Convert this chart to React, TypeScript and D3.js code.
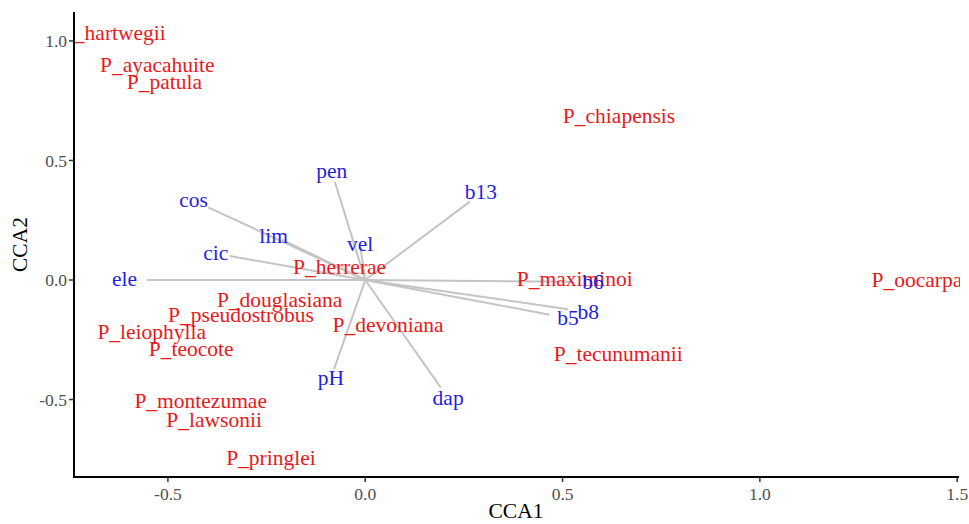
import React from "react";
import * as d3 from "d3";

// Species scores (CCA1, CCA2)
const speciesNames = [
  "P_hartwegii", "P_ayacahuite", "P_patula", "P_chiapensis", "P_herrerae",
  "P_maximinoi", "P_oocarpa", "P_douglasiana", "P_pseudostrobus", "P_leiophylla",
  "P_teocote", "P_devoniana", "P_tecunumanii", "P_montezumae", "P_lawsonii", "P_pringlei",
];
const speciesX = [-0.637, -0.527, -0.509, 0.643, -0.065, 0.531, 1.398, -0.217, -0.315, -0.541, -0.441, 0.058, 0.641, -0.417, -0.383, -0.239];
const speciesY = [1.033, 0.900, 0.828, 0.686, 0.054, 0.004, 0.0, -0.084, -0.146, -0.218, -0.289, -0.188, -0.310, -0.506, -0.586, -0.745];

// Environmental vectors: arrow tips and label positions
const envNames = ["pen", "b13", "vel", "cos", "lim", "cic", "ele", "b6", "b8", "b5", "pH", "dap"];
const envArrowX = [-0.077, 0.265, -0.012, -0.398, -0.211, -0.343, -0.554, 0.525, 0.514, 0.467, -0.079, 0.191];
const envArrowY = [0.411, 0.328, 0.135, 0.304, 0.169, 0.100, 0.0, -0.007, -0.122, -0.145, -0.373, -0.449];
const envLabelX = [-0.085, 0.293, -0.013, -0.435, -0.232, -0.379, -0.610, 0.577, 0.565, 0.514, -0.087, 0.210];
const envLabelY = [0.456, 0.368, 0.149, 0.335, 0.186, 0.115, 0.004, -0.008, -0.134, -0.159, -0.410, -0.494];

const xTicks = [-0.5, 0, 0.5, 1.0, 1.5];
const yTicks = [-0.5, 0, 0.5, 1.0];
const xDomain = [-0.738, 1.502];
const yDomain = [-0.824, 1.121];

const W = 969;
const H = 524;
const left = 74, right = 958, top = 12, bottom = 477;
const FONT = "'Liberation Serif', 'Times New Roman', serif";

export default function App() {
  const x = d3.scaleLinear().domain(xDomain).range([left, right]);
  const y = d3.scaleLinear().domain(yDomain).range([bottom, top]);
  const f = d3.format(".1f");
  const fmt = (v: number) => f(v).replace("\u2212", "-");

  return (
    <svg width={W} height={H} style={{ position: "absolute", left: 0, top: 0, background: "#fff" }} fontFamily={FONT}>
      <defs>
        <clipPath id="panel">
          <rect x={left} y={top} width={right - left + 2} height={bottom - top} />
        </clipPath>
      </defs>
      <rect x={0} y={0} width={W} height={H} fill="#fff" />
      <g clipPath="url(#panel)">
        {envNames.map((n, i) => (
          <line key={"a" + n} x1={x(0)} y1={y(0)} x2={x(envArrowX[i])} y2={y(envArrowY[i])}
            stroke="#c4c4c4" strokeWidth={2} />
        ))}
        {speciesNames.map((n, i) => (
          <text key={n} x={x(speciesX[i])} y={y(speciesY[i])} dy="0.33em" textAnchor="middle"
            fontSize={21.5} fill="#e8191b">{n}</text>
        ))}
        {envNames.map((n, i) => (
          <text key={"l" + n} x={x(envLabelX[i])} y={y(envLabelY[i])} dy="0.33em" textAnchor="middle"
            fontSize={21.5} fill="#1f1fe0">{n}</text>
        ))}
      </g>
      {/* axes */}
      <line x1={left} y1={top} x2={left} y2={bottom + 1} stroke="#000" strokeWidth={2} />
      <line x1={left - 1} y1={bottom} x2={right + 1} y2={bottom} stroke="#000" strokeWidth={2} />
      {xTicks.map((t) => (
        <g key={"xt" + t}>
          <line x1={x(t)} x2={x(t)} y1={bottom} y2={bottom + 5} stroke="#333" strokeWidth={1.5} />
          <text x={x(t)} y={bottom + 23} textAnchor="middle" fontSize={17.5} fill="#4d4d4d">{fmt(t)}</text>
        </g>
      ))}
      {yTicks.map((t) => (
        <g key={"yt" + t}>
          <line x1={left - 5} x2={left} y1={y(t)} y2={y(t)} stroke="#333" strokeWidth={1.5} />
          <text x={left - 7} y={y(t)} dy="0.35em" textAnchor="end" fontSize={17.5} fill="#4d4d4d">{fmt(t)}</text>
        </g>
      ))}
      <text x={(left + right) / 2} y={518} textAnchor="middle" fontSize={21.5} fill="#000">CCA1</text>
      <text transform={`translate(27, ${(top + bottom) / 2}) rotate(-90)`} textAnchor="middle" fontSize={21.5} fill="#000">CCA2</text>
    </svg>
  );
}
